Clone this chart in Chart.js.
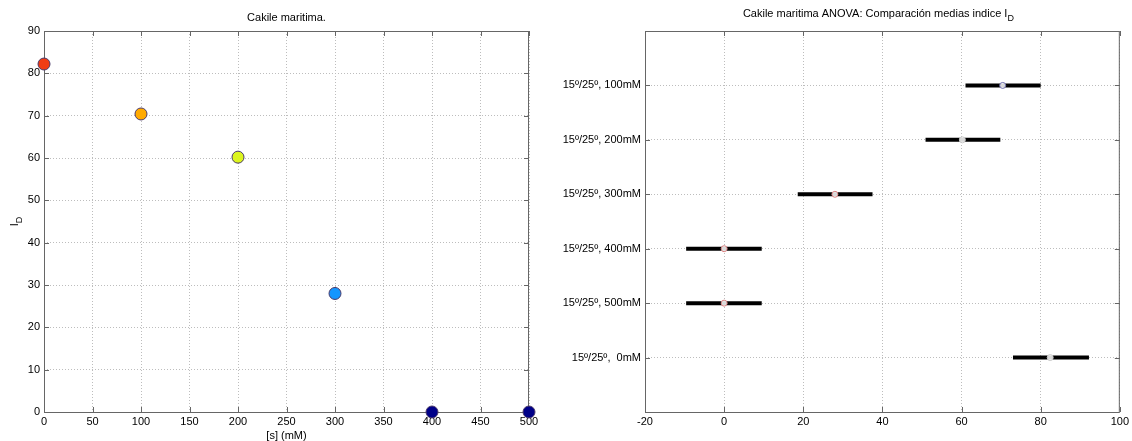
<!DOCTYPE html>
<html lang="es">
<head>
  <meta charset="UTF-8" />
  <title>Cakile maritima</title>
  <script src="https://cdn.jsdelivr.net/npm/chart.js"></script>
  <style>
    body { margin: 0; background: #fff; width: 1132px; height: 441px; position: relative; overflow: hidden; }
    .box { position: absolute; top: 0; height: 441px; }
    #izq { left: 0; width: 545px; }
    #der { left: 560px; width: 572px; }
  </style>
</head>
<body>
  <div class="box" id="izq"><canvas id="graficoIzq"></canvas></div>
  <div class="box" id="der"><canvas id="graficoDer"></canvas></div>

  <script>
    // datos grafico izquierdo
    const salinidad = [0, 100, 200, 300, 400, 500];
    const indiceD = [82.2, 70.4, 60.2, 28.0, 0, 0];
    const coloresPuntos = ['#f03c14', '#ffaa00', '#dcf51e', '#1496ff', '#000088', '#000088'];

    // datos ANOVA (de arriba a abajo)
    const grupos = ['15º/25º, 100mM', '15º/25º, 200mM', '15º/25º, 300mM', '15º/25º, 400mM', '15º/25º, 500mM', '15º/25º,  0mM'];
    const medias = [70.4, 60.2, 28.0, 0, 0, 82.4];
    const limInf = [61.0, 50.9, 18.6, -9.6, -9.6, 73.0];
    const limSup = [80.0, 69.8, 37.5, 9.5, 9.5, 92.2];
    const coloresMedias = ['#7070b0', '#c8c8c8', '#d88080', '#d88080', '#d88080', '#c8c8c8'];
    const ticksX = [-20, 0, 20, 40, 60, 80, 100];

    const fuente = '"Liberation Sans", Arial, sans-serif';
    Chart.defaults.font.family = fuente;
    Chart.defaults.font.size = 11;
    Chart.defaults.color = '#000';

    const gris = '#666';
    const rejilla = '#bdbdbd';

    // caja estilo matlab con ticks hacia dentro + textos
    function pluginCaja(textos) {
      return {
        id: 'caja',
        beforeDatasetsDraw(chart) {
          const a = chart.chartArea, ctx = chart.ctx;
          ctx.save();
          ctx.strokeStyle = gris;
          ctx.lineWidth = 1;
          ctx.strokeRect(a.left + 0.5, a.top + 0.5, a.right - a.left - 1, a.bottom - a.top);
          const sx = chart.scales.x, sy = chart.scales.y;
          ctx.beginPath();
          sx.ticks.forEach(t => {
            const p = Math.round(sx.getPixelForValue(t.value)) + 0.5;
            ctx.moveTo(p, a.bottom); ctx.lineTo(p, a.bottom - 5);
            ctx.moveTo(p, a.top); ctx.lineTo(p, a.top + 5);
          });
          sy.ticks.forEach(t => {
            const p = Math.round(sy.getPixelForValue(t.value)) + 0.5;
            ctx.moveTo(a.left, p); ctx.lineTo(a.left + 5, p);
            ctx.moveTo(a.right, p); ctx.lineTo(a.right - 5, p);
          });
          ctx.stroke();
          ctx.restore();
          textos(chart, ctx);
        }
      };
    }

    function textoSub(ctx, base, sub, x, y, centro) {
      ctx.font = '11px ' + fuente;
      const w1 = ctx.measureText(base).width;
      ctx.font = '9px ' + fuente;
      const w2 = ctx.measureText(sub).width;
      let x0 = centro ? x - (w1 + w2) / 2 : x;
      ctx.textAlign = 'left';
      ctx.font = '11px ' + fuente;
      ctx.fillText(base, x0, y);
      ctx.font = '9px ' + fuente;
      ctx.fillText(sub, x0 + w1, y + 4);
    }

    new Chart(document.getElementById('graficoIzq'), {
      type: 'scatter',
      data: {
        datasets: [{
          data: salinidad.map((s, i) => ({ x: s, y: indiceD[i] })),
          backgroundColor: coloresPuntos,
          borderColor: '#4a3a6a',
          borderWidth: 1,
          pointRadius: 6,
          pointHoverRadius: 6,
          clip: false
        }]
      },
      options: {
        responsive: true,
        maintainAspectRatio: false,
        animation: false,
        events: [],
        layout: { padding: { top: 31, right: 16, left: 0, bottom: 0 } },
        plugins: { legend: { display: false }, tooltip: { enabled: false } },
        scales: {
          x: {
            type: 'linear', min: 0, max: 500,
            afterFit: s => { s.height = 29; },
            ticks: { stepSize: 50, padding: 3, maxRotation: 0, color: '#000' },
            grid: { color: rejilla, drawTicks: false },
            border: { display: false, dash: [1, 2] }
          },
          y: {
            type: 'linear', min: 0, max: 90,
            afterFit: s => { s.width = 44; },
            ticks: { stepSize: 10, padding: 4, color: '#000' },
            grid: { color: rejilla, drawTicks: false },
            border: { display: false, dash: [1, 2] }
          }
        }
      },
      plugins: [pluginCaja((chart, ctx) => {
        const a = chart.chartArea;
        ctx.save();
        ctx.fillStyle = '#000';
        ctx.textBaseline = 'alphabetic';
        ctx.font = '11px ' + fuente;
        ctx.textAlign = 'center';
        ctx.fillText('Cakile maritima.', (a.left + a.right) / 2, 21);
        ctx.fillText('[s] (mM)', (a.left + a.right) / 2, 439);
        ctx.translate(18, (a.top + a.bottom) / 2);
        ctx.rotate(-Math.PI / 2);
        textoSub(ctx, 'I', 'D', 0, 0, true);
        ctx.restore();
      })]
    });

    const conjuntos = grupos.map((g, i) => ({
      type: 'line',
      data: [{ x: limInf[i], y: i + 1 }, { x: limSup[i], y: i + 1 }],
      borderColor: '#000',
      borderWidth: 4,
      pointRadius: 0,
      order: 2
    }));
    conjuntos.push({
      type: 'scatter',
      data: medias.map((m, i) => ({ x: m, y: i + 1 })),
      backgroundColor: 'rgba(255,255,255,0.85)',
      borderColor: coloresMedias,
      borderWidth: 1,
      pointRadius: 3,
      order: 1
    });

    new Chart(document.getElementById('graficoDer'), {
      type: 'scatter',
      data: { datasets: conjuntos },
      options: {
        responsive: true,
        maintainAspectRatio: false,
        animation: false,
        events: [],
        layout: { padding: { top: 31, right: 10, left: 0, bottom: 0 } },
        plugins: { legend: { display: false }, tooltip: { enabled: false } },
        scales: {
          x: {
            type: 'linear', min: -20, max: 100,
            afterBuildTicks: s => { s.ticks = ticksX.map(v => ({ value: v })); },
            afterFit: s => { s.height = 29; },
            ticks: { padding: 3, maxRotation: 0, color: '#000' },
            grid: { color: rejilla, drawTicks: false },
            border: { display: false, dash: [1, 2] }
          },
          y: {
            type: 'linear', min: 0, max: 7, reverse: true,
            afterBuildTicks: s => { s.ticks = grupos.map((g, i) => ({ value: i + 1 })); },
            afterFit: s => { s.width = 85; },
            ticks: { padding: 4, color: '#000', callback: v => grupos[v - 1] },
            grid: { color: rejilla, drawTicks: false },
            border: { display: false, dash: [1, 2] }
          }
        }
      },
      plugins: [pluginCaja((chart, ctx) => {
        const a = chart.chartArea;
        ctx.save();
        ctx.fillStyle = '#000';
        ctx.textBaseline = 'alphabetic';
        textoSub(ctx, 'Cakile maritima ANOVA: Comparación medias indice I', 'D', (a.left + a.right) / 2 - 4, 17, true);
        ctx.restore();
      })]
    });
  </script>
</body>
</html>
